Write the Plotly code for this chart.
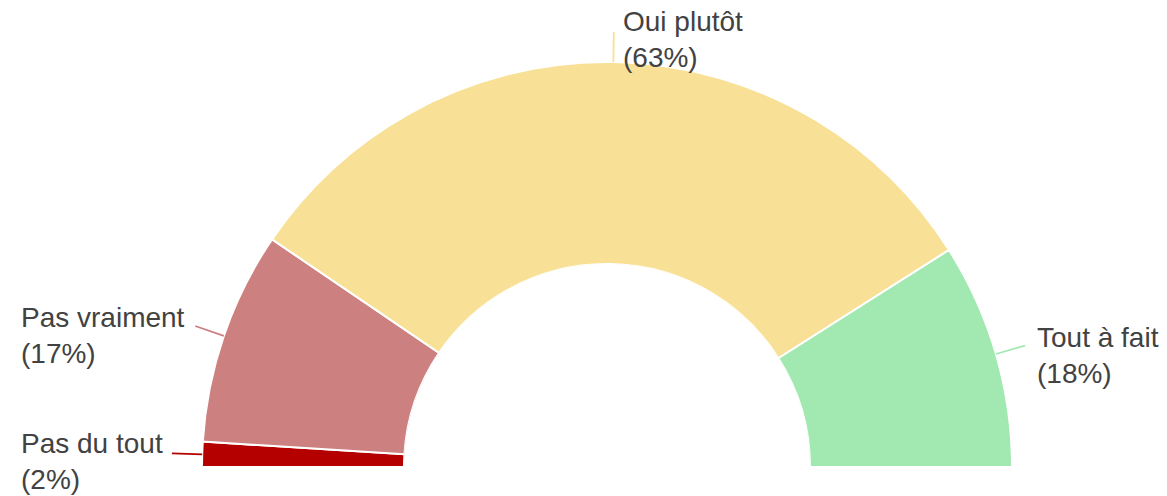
import plotly.graph_objects as go

# ---- data ----
categories = ["Pas du tout", "Pas vraiment", "Oui plutôt", "Tout à fait"]
percents = [2, 17, 63, 18]
colors = ["#B50000", "#CD8080", "#F8E196", "#A2E8B1"]

# ---- layout helpers (positions / styles) ----
W, H = 1167, 496
OFF = 8  # page body margin offset
total = sum(percents)
deg_per = 180.0 / total

mids, widths = [], []
acc = 0
for p in percents:
    widths.append(p * deg_per)
    mids.append((acc + p / 2) * deg_per)
    acc += p

fig = go.Figure()

fig.add_trace(go.Barpolar(
    r=[1] * len(categories),
    theta=mids,
    width=widths,
    marker=dict(color=colors, line=dict(color="white", width=2)),
    text=categories,
    hoverinfo="text",
    showlegend=False,
))

# leader lines
for cat, m, c in zip(categories, mids, colors):
    fig.add_trace(go.Scatterpolar(
        r=[1.0, 1.15], theta=[m, m], mode="lines",
        line=dict(color=c, width=1.8), hoverinfo="skip", showlegend=False,
    ))

# label positions (figure pixels: left x, block center y)
label_pos = {
    "Pas du tout": (11, 453),
    "Pas vraiment": (11, 327),
    "Oui plutôt": (613, 32),
    "Tout à fait": (1027, 347),
}
for cat, p in zip(categories, percents):
    px, py = label_pos[cat]
    fig.add_annotation(
        x=px / W, y=1 - py / H, xref="paper", yref="paper",
        xanchor="left", yanchor="middle", align="left",
        text=f"{cat}<br>({p}%)", showarrow=False,
        font=dict(family="Liberation Sans, Arial, sans-serif", size=28, color="#424242"),
    )

R_in, R_out_unit, M = 203.0, 202.0, 1.2
Rf = R_in + R_out_unit * M
cx, cy = 607.0 - OFF, 467.0 - OFF
hole = R_in / Rf

fig.update_layout(
    width=W, height=H,
    margin=dict(l=0, r=0, t=0, b=0),
    paper_bgcolor="white",
    polar=dict(
        domain=dict(x=[(cx - Rf) / W, (cx + Rf) / W], y=[(H - cy) / H, (H - cy + Rf) / H]),
        sector=[0, 180],
        hole=hole,
        bgcolor="white",
        radialaxis=dict(range=[0, M], visible=False, showgrid=False),
        angularaxis=dict(visible=False, showgrid=False, direction="clockwise", rotation=180),
    ),
)

fig.write_html("out.html")
